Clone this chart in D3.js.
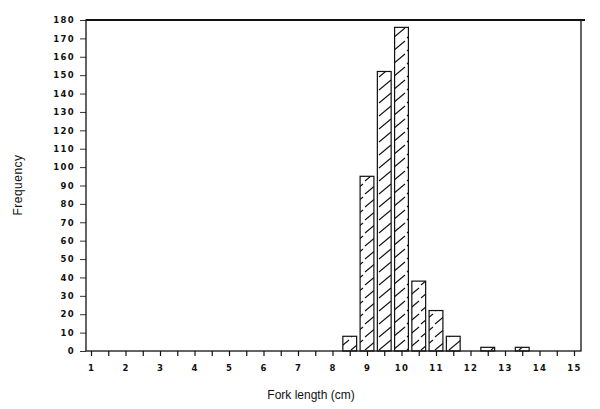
<!DOCTYPE html>
<html>
<head>
<meta charset="utf-8">
<script src="https://cdn.jsdelivr.net/npm/d3@7"></script>
<style>
  body { margin: 0; background: #fff; }
  svg { display: block; }
  .tick text { font-family: "DejaVu Sans", sans-serif; font-size: 8.5px; font-weight: bold; letter-spacing: 1.3px; fill: #111; }
  .title { font-family: "Liberation Sans", Arial, sans-serif; font-size: 12px; fill: #111; }
</style>
</head>
<body>
<svg width="600" height="409"></svg>
<script>
// fork length class midpoints (cm) and counts
var lengths = [8.5, 9, 9.5, 10, 10.5, 11, 11.5, 12.5, 13.5];
var counts = [8, 95, 152, 176, 38, 22, 8, 2, 2];
var xTicks = d3.range(1, 15.01, 0.5);
var xLabels = d3.range(1, 16);
var yTicks = d3.range(0, 181, 10);

var svg = d3.select("svg");
var plotLeft = 86, plotRight = 581, plotTop = 20, plotBottom = 351;

var x = d3.scaleLinear().domain([1, 15]).range([91, 574]);
var y = d3.scaleLinear().domain([0, 180]).range([plotBottom, plotTop]);

// hatch fill
var defs = svg.append("defs");
var pat = defs.append("pattern")
  .attr("id", "hatch")
  .attr("patternUnits", "userSpaceOnUse")
  .attr("width", 14).attr("height", 13);
pat.append("path")
  .attr("d", "M1,12 L13,2")
  .attr("stroke", "#111")
  .attr("stroke-width", 1.1)
  .attr("fill", "none");

// bars
svg.append("g").attr("class", "bars")
  .selectAll("rect")
  .data(lengths)
  .enter().append("rect")
    .attr("x", function(d) { return x(d - 0.2); })
    .attr("width", function(d) { return x(d + 0.2) - x(d - 0.2); })
    .attr("y", function(d, i) { return y(counts[i]); })
    .attr("height", function(d, i) { return plotBottom - y(counts[i]); })
    .attr("fill", "url(#hatch)")
    .attr("stroke", "#111")
    .attr("stroke-width", 1.2);

// x axis ticks at half cm, labels at whole cm
var xAxis = d3.axisBottom(x)
  .tickValues(xTicks)
  .tickSize(5)
  .tickPadding(9)
  .tickFormat(function(d) { return xLabels.indexOf(d) >= 0 ? d : ""; });
var gx = svg.append("g")
  .attr("transform", "translate(0," + plotBottom + ")")
  .call(xAxis);
gx.select(".domain").remove();
gx.selectAll(".tick line").attr("stroke", "#111").attr("stroke-width", 1.2);

var yAxis = d3.axisLeft(y)
  .tickValues(yTicks)
  .tickSize(6)
  .tickPadding(5);
var gy = svg.append("g")
  .attr("transform", "translate(" + plotLeft + ",0)")
  .call(yAxis);
gy.select(".domain").remove();
gy.selectAll(".tick line").attr("stroke", "#333").attr("stroke-width", 1);

// frame
svg.append("rect")
  .attr("x", plotLeft).attr("y", plotTop)
  .attr("width", plotRight - plotLeft).attr("height", plotBottom - plotTop)
  .attr("fill", "none")
  .attr("stroke", "#111")
  .attr("stroke-width", 1.3);
svg.append("line")
  .attr("x1", plotLeft).attr("x2", 585)
  .attr("y1", plotTop).attr("y2", plotTop)
  .attr("stroke", "#111").attr("stroke-width", 2);

svg.append("text")
  .attr("class", "title")
  .attr("x", 311).attr("y", 399)
  .attr("text-anchor", "middle")
  .text("Fork length (cm)");

svg.append("text")
  .attr("class", "title")
  .attr("transform", "translate(22,185) rotate(-90)")
  .attr("text-anchor", "middle")
  .attr("letter-spacing", "0.5px")
  .text("Frequency");
</script>
</body>
</html>
